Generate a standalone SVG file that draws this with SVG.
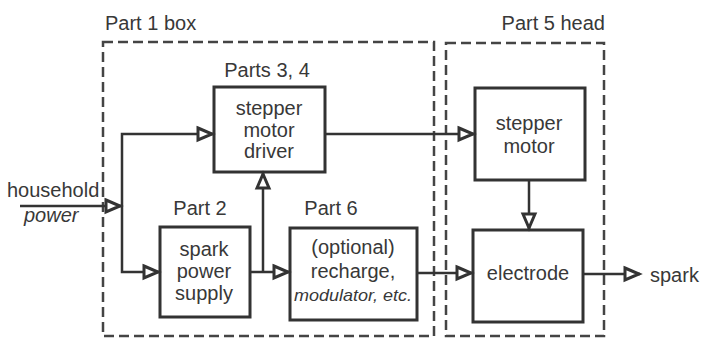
<svg xmlns="http://www.w3.org/2000/svg" width="703" height="340" viewBox="0 0 703 340">
<defs>
<style>
text{font-family:"Liberation Sans",Arial,sans-serif;fill:#383838;font-size:20px}
.c{text-anchor:middle}
.box{fill:none;stroke:#333;stroke-width:3}
.dash{fill:none;stroke:#444;stroke-width:2.5;stroke-dasharray:10 5}
.ln{fill:none;stroke:#333;stroke-width:2.5}
.it{font-style:italic}
.sm{font-size:17px}
</style>
<marker id="ah" markerUnits="userSpaceOnUse" markerWidth="20" markerHeight="18" refX="17" refY="8" orient="auto" viewBox="0 0 20 16">
<path d="M2,2 L16,8 L2,14 Z" fill="#fff" stroke="#333" stroke-width="3" stroke-linejoin="miter"/>
</marker>
</defs>
<rect width="703" height="340" fill="#fff"/>
<g id="part1">
<rect class="dash" x="103" y="42" width="331" height="294"/>
<text x="105" y="30">Part 1 box</text>
</g>
<g id="part5">
<rect class="dash" x="446" y="43" width="158" height="293"/>
<text x="605" y="30" text-anchor="end">Part 5 head</text>
</g>
<g id="driver">
<rect class="box" x="214" y="87" width="111" height="85"/>
<text class="c" x="267" y="77">Parts 3, 4</text>
<text class="c" x="269" y="115">stepper</text>
<text class="c" x="269" y="137">motor</text>
<text class="c" x="269" y="158">driver</text>
</g>
<g id="supply">
<rect class="box" x="160" y="227" width="90" height="90"/>
<text class="c" x="200" y="215">Part 2</text>
<text class="c" x="204" y="256">spark</text>
<text class="c" x="204" y="278">power</text>
<text class="c" x="204" y="300">supply</text>
</g>
<g id="recharge">
<rect class="box" x="290" y="228" width="127" height="92"/>
<text class="c" x="331" y="215">Part 6</text>
<text class="c" x="353" y="254">(optional)</text>
<text class="c" x="353" y="278">recharge,</text>
<text class="c it sm" x="353" y="301" textLength="118" lengthAdjust="spacingAndGlyphs">modulator, etc.</text>
</g>
<g id="motor">
<rect class="box" x="475" y="88" width="110" height="92"/>
<text class="c" x="529" y="130">stepper</text>
<text class="c" x="529" y="153">motor</text>
</g>
<g id="electrode">
<rect class="box" x="473" y="230" width="110" height="92"/>
<text class="c" x="528" y="280">electrode</text>
</g>
<g id="labels">
<text x="7" y="197">household</text>
<text class="it" x="24" y="222">power</text>
<text x="650" y="282">spark</text>
</g>
<g id="connectors">
<path class="ln" d="M20,206 L121,206" marker-end="url(#ah)"/>
<path class="ln" d="M122,206 L122,134 L213,134" marker-end="url(#ah)"/>
<path class="ln" d="M122,206 L122,272 L159,272" marker-end="url(#ah)"/>
<path class="ln" d="M250,272 L289,272" marker-end="url(#ah)"/>
<path class="ln" d="M263,272 L263,173" marker-end="url(#ah)"/>
<path class="ln" d="M325,134 L474,134" marker-end="url(#ah)"/>
<path class="ln" d="M529,180 L529,229" marker-end="url(#ah)"/>
<path class="ln" d="M417,273 L472,273" marker-end="url(#ah)"/>
<path class="ln" d="M583,274 L640,274" marker-end="url(#ah)"/>
</g>
</svg>
